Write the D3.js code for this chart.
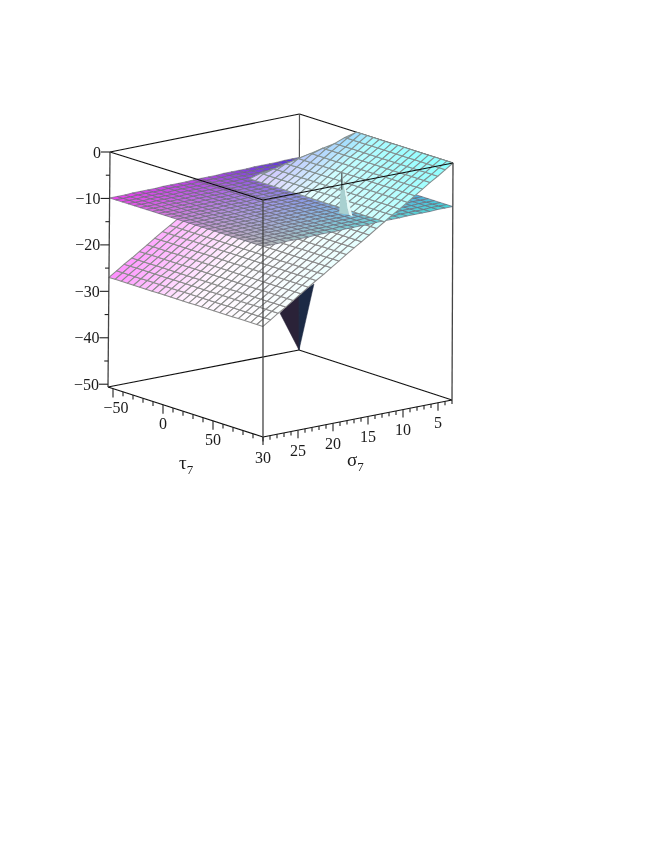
<!DOCTYPE html>
<html lang="en">
<head>
    <meta charset="UTF-8">
    <title>Surface plot</title>
    <script src="https://d3js.org/d3.v7.min.js"></script>
    <style>
        body { margin: 0; background: #fff; }
        text { font-family: "Liberation Serif", serif; fill: #1a1a1a; }
        .tick-label { font-size: 16px; }
        .axis-label { font-size: 19px; }
    </style>
</head>
<body>
    <script>
        const tauDomain = [-55, 100];
        const sigmaDomain = [30, 3];
        const zDomain = [-50.6, 0];

        // mesh positions, 25 x 25 cells
        const tauGrid = [-55, -48.8, -42.6, -36.4, -30.2, -24, -17.8, -11.6, -5.4, 0.8, 7, 13.2, 19.4, 25.6, 31.8, 38, 44.2, 50.4, 56.6, 62.8, 69, 75.2, 81.4, 87.6, 93.8, 100];
        const sigmaGrid = [30, 28.92, 27.84, 26.76, 25.68, 24.6, 23.52, 22.44, 21.36, 20.28, 19.2, 18.12, 17.04, 15.96, 14.88, 13.8, 12.72, 11.64, 10.56, 9.48, 8.4, 7.32, 6.24, 5.16, 4.08, 3];

        // surface heights for each sigma row
        const tiltedZ = [-27, -25.9, -24.8, -23.8, -22.7, -21.6, -20.5, -19.4, -18.4, -17.3, -16.2, -15.1, -14, -13, -11.9, -10.8, -9.7, -8.6, -7.6, -6.5, -5.4, -4.3, -3.2, -2.2, -1.1, 0];
        const flatZ = [-9.9, -9.9, -9.9, -9.8, -9.8, -9.8, -9.8, -9.7, -9.7, -9.7, -9.7, -9.6, -9.6, -9.6, -9.6, -9.5, -9.5, -9.5, -9.5, -9.4, -9.4, -9.4, -9.4, -9.3, -9.3, -9.3];

        // first tau of the upper surface on each sigma row
        const tiltedStartTau = [-55, -55, -55, -55, -55, -55, -55, -55, -55, -55, -55, -55, -55, -55, -55, -55, -36.4, -32.5, -27, -22.5, -18, -13, -8.5, -4, -1.5, 2.4];
        const tiltedSplitRow = 16;

        // colours over the surfaces: rows go with sigma, columns with tau
        const tiltedColors = [
            ["#ff8cff", "#fff4ff", "#ffffff"],
            ["#ffccff", "#ffffff", "#e6ffff"],
            ["#7878fa", "#a8fcff", "#88ffff"]
        ];
        const flatColors = [
            ["#f040f0", "#c890d4", "#b8b8b8"],
            ["#b044e0", "#9a9ce8", "#78d0d4"],
            ["#4a30d8", "#5a80e0", "#44d8d8"]
        ];

        // dark fold under the surfaces
        const foldTau = [-55, -40, -55, -55];
        const foldSigma = [5.7, 3, 3, 3];
        const foldZ = [-41.9, -35.4, -38.5, -50.6];

        // narrow peak
        const peakTau = [67.5, 73, 79, 73];
        const peakSigma = [14.6, 14, 14.3, 15];
        const peakZ = [-9.6, -9.6, -9.6, -0.4];

        const tauTicks = [-50, 0, 50];
        const sigmaTicks = [5, 10, 15, 20, 25, 30];
        const zTicks = [0, -10, -20, -30, -40, -50];

        // screen corners of the box: [tau end][sigma end][z end]
        const corners = {
            leftBottom: [108, 387], frontBottom: [263, 437], rightBottom: [452, 400], backBottom: [299, 350],
            leftTop: [110, 152], frontTop: [263, 200], rightTop: [453, 163], backTop: [299.5, 114]
        };

        const width = 664, height = 860;

        const tauScale = d3.scaleLinear().domain(tauDomain).range([0, 1]);
        const sigmaScale = d3.scaleLinear().domain(sigmaDomain).range([0, 1]);
        const zScale = d3.scaleLinear().domain(zDomain).range([0, 1]);

        function project(tau, sigma, z) {
            const t = tauScale(tau), s = sigmaScale(sigma), w = zScale(z);
            const mix = k => {
                const bottom = (1 - t) * (1 - s) * corners.leftBottom[k] + t * (1 - s) * corners.frontBottom[k]
                    + t * s * corners.rightBottom[k] + (1 - t) * s * corners.backBottom[k];
                const top = (1 - t) * (1 - s) * corners.leftTop[k] + t * (1 - s) * corners.frontTop[k]
                    + t * s * corners.rightTop[k] + (1 - t) * s * corners.backTop[k];
                return bottom * (1 - w) + top * w;
            };
            return [mix(0), mix(1)];
        }

        function surfaceColor(table) {
            const stops = [0, 0.5, 1];
            const rows = table.map(row => d3.scaleLinear().domain(stops).range(row).interpolate(d3.interpolateRgb));
            return (t, s) => d3.scaleLinear().domain(stops).range(rows.map(r => r(t))).interpolate(d3.interpolateRgb)(s);
        }

        const svg = d3.select("body").append("svg")
            .attr("width", width)
            .attr("height", height);

        const defs = svg.append("defs");
        defs.append("filter").attr("id", "soft")
            .append("feGaussianBlur").attr("stdDeviation", 0.5);
        defs.append("filter").attr("id", "softText")
            .append("feGaussianBlur").attr("stdDeviation", 0.35);

        const line = d3.line();

        function edge(group, a, b) {
            group.append("path")
                .attr("d", line([a, b]))
                .attr("fill", "none")
                .attr("stroke", "#111")
                .attr("stroke-width", 1.15);
        }

        function drawMesh(group, zRow, startTau, fromRow, toRow, colorOf, strokeColor, strokeWidth) {
            const cells = [];
            for (let i = fromRow; i < toRow; i++) {
                for (let j = 0; j < tauGrid.length - 1; j++) {
                    const a0 = Math.max(tauGrid[j], startTau[i]), a1 = Math.max(tauGrid[j + 1], startTau[i]);
                    const b0 = Math.max(tauGrid[j], startTau[i + 1]), b1 = Math.max(tauGrid[j + 1], startTau[i + 1]);
                    if (a1 <= a0 && b1 <= b0) continue;
                    cells.push({
                        points: [
                            project(a0, sigmaGrid[i], zRow[i]),
                            project(a1, sigmaGrid[i], zRow[i]),
                            project(b1, sigmaGrid[i + 1], zRow[i + 1]),
                            project(b0, sigmaGrid[i + 1], zRow[i + 1])
                        ],
                        color: colorOf(tauScale((a0 + a1) / 2), sigmaScale((sigmaGrid[i] + sigmaGrid[i + 1]) / 2))
                    });
                }
            }
            group.selectAll(null)
                .data(cells)
                .enter().append("path")
                .attr("d", d => line(d.points) + "Z")
                .attr("fill", d => d.color)
                .attr("stroke", strokeColor)
                .attr("stroke-width", strokeWidth)
                .attr("stroke-linejoin", "round");
        }

        // back of the box
        const back = svg.append("g").attr("filter", "url(#soft)");
        edge(back, corners.leftBottom, corners.backBottom);
        edge(back, corners.backBottom, corners.rightBottom);
        edge(back, corners.leftTop, corners.backTop);
        edge(back, corners.backTop, corners.rightTop);
        back.append("path")
            .attr("d", line([corners.backTop, corners.backBottom]))
            .attr("stroke", "#555").attr("stroke-width", 1.2);

        const surfaces = svg.append("g").attr("filter", "url(#soft)");

        // fold, two dark faces
        const foldPoints = foldTau.map((d, i) => project(d, foldSigma[i], foldZ[i]));
        surfaces.append("path")
            .attr("d", line([foldPoints[0], foldPoints[2], foldPoints[3]]) + "Z")
            .attr("fill", "#2a2438").attr("stroke", "#2a2438").attr("stroke-width", 0.5);
        surfaces.append("path")
            .attr("d", line([foldPoints[2], foldPoints[1], foldPoints[3]]) + "Z")
            .attr("fill", "#1e2a44").attr("stroke", "#1e2a44").attr("stroke-width", 0.5);

        const tiltedColor = surfaceColor(tiltedColors);
        const flatColor = surfaceColor(flatColors);
        const flatStart = sigmaGrid.map(() => tauDomain[0]);

        drawMesh(surfaces, tiltedZ, tiltedStartTau, 0, tiltedSplitRow, tiltedColor, "#8a8a8a", 1.05);
        drawMesh(surfaces, flatZ, flatStart, 0, sigmaGrid.length - 1, flatColor, "#6c6a78", 0.7);
        drawMesh(surfaces, tiltedZ, tiltedStartTau, tiltedSplitRow, sigmaGrid.length - 1, tiltedColor, "#849090", 1.05);

        // peak
        const peakPoints = peakTau.map((d, i) => project(d, peakSigma[i], peakZ[i]));
        surfaces.append("path")
            .attr("d", line([peakPoints[0], peakPoints[1], peakPoints[3]]) + "Z")
            .attr("fill", "#a8d0d0");
        surfaces.append("path")
            .attr("d", line([peakPoints[1], peakPoints[2], peakPoints[3]]) + "Z")
            .attr("fill", "#e4f8f6");
        surfaces.append("path")
            .attr("d", line([peakPoints[3], project(peakTau[3], peakSigma[3], -4)]))
            .attr("stroke", "#333").attr("stroke-width", 1);

        // front of the box and axes
        const front = svg.append("g").attr("filter", "url(#soft)");
        edge(front, corners.leftTop, corners.frontTop);
        edge(front, corners.frontTop, corners.rightTop);
        edge(front, corners.leftBottom, corners.frontBottom);
        edge(front, corners.frontBottom, corners.rightBottom);

        const vertical = (a, b) => front.append("path")
            .attr("d", line([a, b]))
            .attr("stroke", "#444").attr("stroke-width", 1.3);
        vertical(corners.leftTop, corners.leftBottom);
        vertical(corners.frontTop, corners.frontBottom);
        vertical(corners.rightTop, corners.rightBottom);

        const tick = (p, dx, dy) => front.append("path")
            .attr("d", line([p, [p[0] + dx, p[1] + dy]]))
            .attr("stroke", "#222").attr("stroke-width", 1.1);

        // tau axis
        d3.range(-50, 101, 10).forEach(v => {
            const p = project(v, sigmaDomain[0], zDomain[0]);
            tick(p, 0, tauTicks.includes(v) ? 9 : 4.5);
        });
        // sigma axis
        d3.range(3, 31, 1).forEach(v => {
            const p = project(tauDomain[1], v, zDomain[0]);
            tick(p, 0, sigmaTicks.includes(v) ? 8 : 4);
        });
        // z axis
        d3.range(-50, 1, 5).forEach(v => {
            const p = project(tauDomain[0], sigmaDomain[0], v);
            tick(p, zTicks.includes(v) ? -9 : -4, 0);
        });

        const labels = svg.append("g").attr("filter", "url(#softText)");
        const fmt = v => String(v).replace("-", "\u2212");

        tauTicks.forEach(v => {
            const p = project(v, sigmaDomain[0], zDomain[0]);
            labels.append("text").attr("class", "tick-label")
                .attr("x", p[0] + (v < 0 ? 3 : 0)).attr("y", p[1] + 19).attr("dy", ".35em")
                .attr("text-anchor", "middle").text(fmt(v));
        });
        sigmaTicks.forEach(v => {
            const p = project(tauDomain[1], v, zDomain[0]);
            labels.append("text").attr("class", "tick-label")
                .attr("x", p[0]).attr("y", p[1] + 20).attr("dy", ".35em")
                .attr("text-anchor", "middle").text(fmt(v));
        });
        zTicks.forEach(v => {
            const p = project(tauDomain[0], sigmaDomain[0], v);
            labels.append("text").attr("class", "tick-label")
                .attr("x", p[0] - 9).attr("y", p[1]).attr("dy", ".35em")
                .attr("text-anchor", "end").text(fmt(v));
        });

        function axisLabel(x, y, name) {
            const t = labels.append("text").attr("class", "axis-label").attr("x", x).attr("y", y);
            t.append("tspan").text(name);
            t.append("tspan").attr("dy", 5).attr("font-size", 13).text("7");
        }
        axisLabel(179, 469, "\u03c4");
        axisLabel(347, 466, "\u03c3");
    </script>
</body>
</html>
